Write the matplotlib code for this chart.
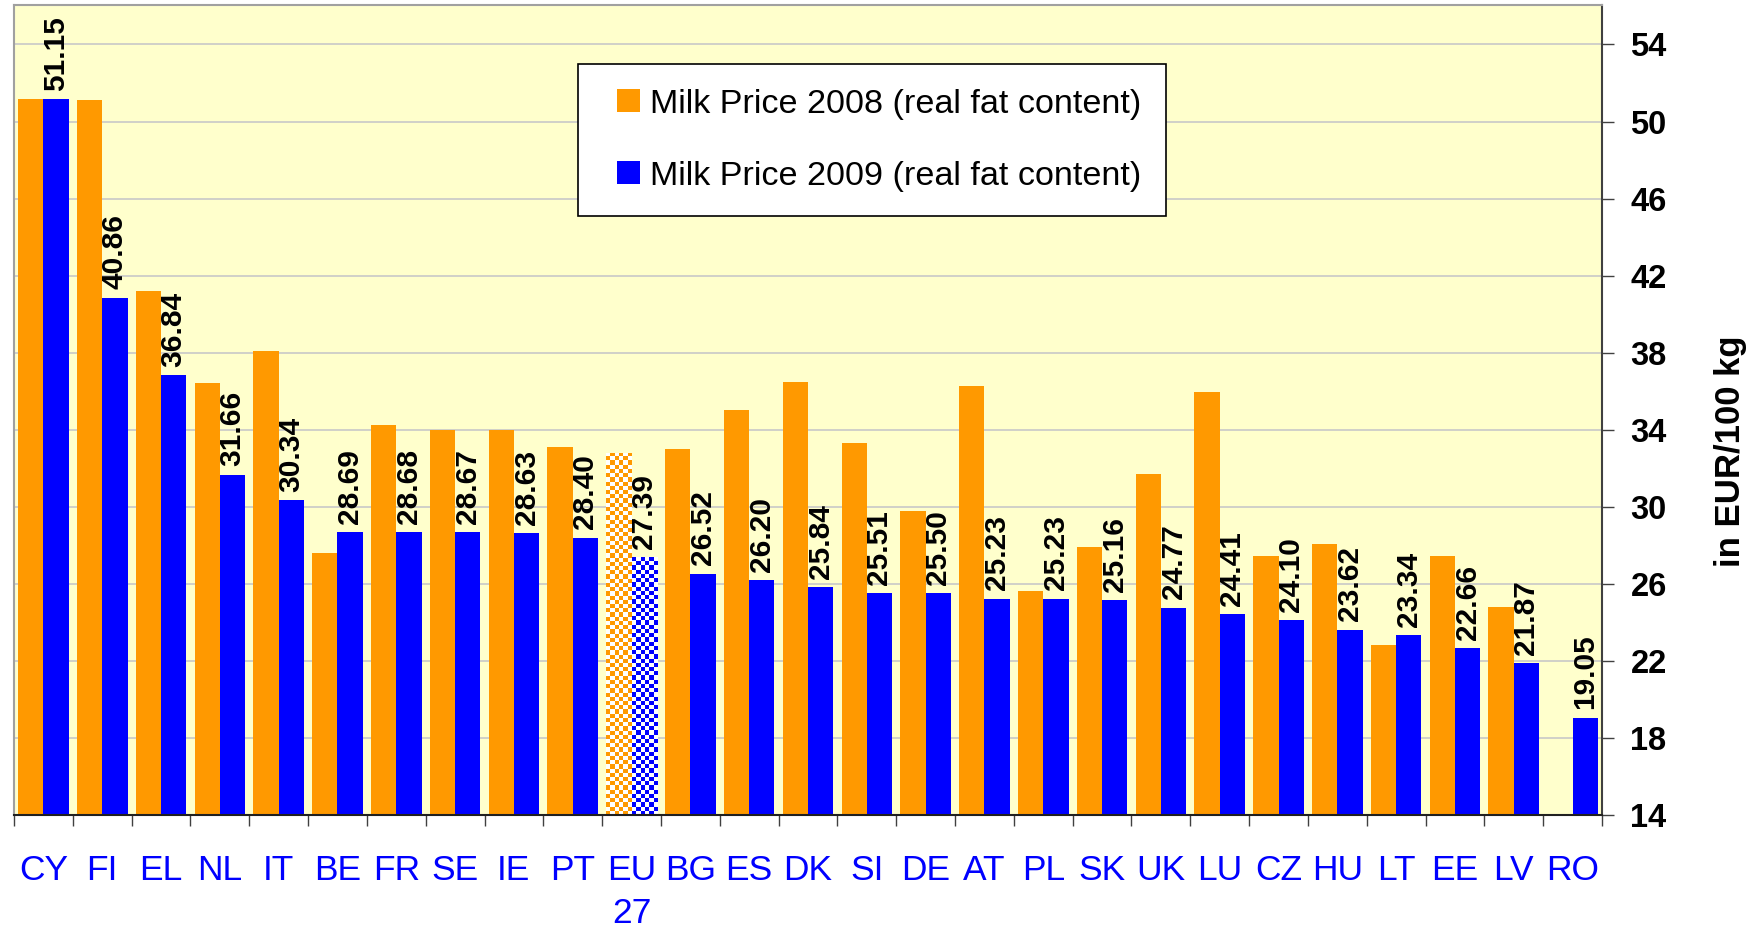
import numpy as np
import matplotlib
matplotlib.use("Agg")
import matplotlib.pyplot as plt
from matplotlib.colors import ListedColormap
from matplotlib.patches import Patch, Rectangle
from matplotlib.legend_handler import HandlerPatch
from matplotlib import font_manager

# ---------------- data ----------------
countries = ['CY', 'FI', 'EL', 'NL', 'IT', 'BE', 'FR', 'SE', 'IE', 'PT', 'EU\n27',
             'BG', 'ES', 'DK', 'SI', 'DE', 'AT', 'PL', 'SK', 'UK', 'LU', 'CZ',
             'HU', 'LT', 'EE', 'LV', 'RO']
price_2008 = [51.15, 51.10, 41.22, 36.42, 38.09, 27.62, 34.24, 33.98, 33.98, 33.09, 32.81,
              32.99, 35.02, 36.47, 33.29, 29.76, 36.27, 25.65, 27.93, 31.69, 35.95, 27.47,
              28.05, 22.80, 27.47, 24.81, np.nan]
price_2009 = [51.15, 40.86, 36.84, 31.66, 30.34, 28.69, 28.68, 28.67, 28.63, 28.40, 27.39,
              26.52, 26.20, 25.84, 25.51, 25.50, 25.23, 25.23, 25.16, 24.77, 24.41, 24.10,
              23.62, 23.34, 22.66, 21.87, 19.05]
aggregate = ['EU\n27']
yticks = list(range(14, 55, 4))
label_2008 = 'Milk Price 2008 (real fat content)'
label_2009 = 'Milk Price 2009 (real fat content)'
ylabel = 'in EUR/100 kg'

ORANGE = '#FF9900'
BLUE = '#0000FF'
BG = '#FFFFCC'

avail = {f.name for f in font_manager.fontManager.ttflist}
narrow = 'Liberation Sans Narrow' if 'Liberation Sans Narrow' in avail else 'Liberation Sans'
plt.rcParams['font.family'] = ['Liberation Sans', 'DejaVu Sans']

fig = plt.figure(figsize=(17.6, 9.31), dpi=100)
fig.patch.set_facecolor('white')
ax = fig.add_axes([14 / 1760, 1 - 815 / 931, 1588 / 1760, 810 / 931])
ax.set_facecolor(BG)

x = np.arange(len(countries))
w = 0.43
b1 = ax.bar(x - w / 2, price_2008, w, color=ORANGE, linewidth=0, zorder=2)
b2 = ax.bar(x + w / 2, price_2009, w, color=BLUE, linewidth=0, zorder=2)

ax.set_xlim(-0.5, len(countries) - 0.5)
ax.set_ylim(14, 56.05)

# checkerboard fill for aggregate bars
def checker(bar, color):
    bar.set_facecolor('white')
    x0 = bar.get_x()
    x1 = x0 + bar.get_width()
    y0 = ax.get_ylim()[0]
    y1 = bar.get_height()
    p0 = ax.transData.transform((x0, y0))
    p1 = ax.transData.transform((x1, y1))
    nx = max(1, int(round(abs(p1[0] - p0[0]) / 4.2)))
    ny = max(1, int(round(abs(p1[1] - p0[1]) / 4.2)))
    grid = np.indices((ny, nx)).sum(axis=0) % 2
    im = ax.imshow(grid, cmap=ListedColormap([color, 'white']), extent=(x0, x1, y0, y1),
                   origin='lower', aspect='auto', interpolation='nearest', zorder=2.1)
    im.set_clip_path(bar)

xl, yl = ax.get_xlim(), ax.get_ylim()
for i, c in enumerate(countries):
    if c in aggregate:
        checker(b1[i], ORANGE)
        checker(b2[i], BLUE)
ax.set_xlim(xl)
ax.set_ylim(yl)

# value labels on 2009 bars
for i, v in enumerate(price_2009):
    ax.annotate(f'{v:.2f}', (x[i] + w / 2, v), xytext=(0, 6), textcoords='offset points',
                rotation=90, ha='center', va='bottom', fontsize=21.5, fontweight='bold',
                color='black', zorder=4)

# grid
ax.set_axisbelow(True)
ax.yaxis.grid(True, color='#C8C8C8', linewidth=1.2)
ax.xaxis.grid(False)

# y axis on right
ax.yaxis.tick_right()
ax.set_yticks(yticks)
ax.set_yticklabels([str(t) for t in yticks], fontsize=23.5, fontweight='bold')
ax.tick_params(axis='y', which='major', direction='out', length=8.5, width=1, pad=12,
               color='#404040', left=False, right=True)

# x ticks: labels at centers, tick marks at boundaries
ax.set_xticks(x)
ax.set_xticklabels(countries, fontsize=25.5, color=BLUE, family=[narrow, 'Liberation Sans'],
                   linespacing=1.38)
ax.set_xticks(np.arange(len(countries) + 1) - 0.5, minor=True)
ax.tick_params(axis='x', which='major', length=0, pad=28)
ax.tick_params(axis='x', which='minor', direction='out', length=8, width=1, color='#404040')

for s in ['top', 'left']:
    ax.spines[s].set_color('#A0A0A0')
    ax.spines[s].set_linewidth(1.5)
ax.spines['bottom'].set_color('#202020')
ax.spines['bottom'].set_linewidth(1.5)
ax.spines['right'].set_color('#404040')
ax.spines['right'].set_linewidth(1.5)

fig.text(1730.5 / 1760, 1 - 451 / 931, ylabel, rotation=90, ha='center', va='center',
         fontsize=25, fontweight='bold')


def square_handle(legend, orig_handle, xdescent, ydescent, width, height, fontsize):
    s = height
    return Rectangle((width - xdescent - s, -ydescent), s, s)


handles = [Patch(facecolor=ORANGE, edgecolor='none', label=label_2008),
           Patch(facecolor=BLUE, edgecolor='none', label=label_2009)]
leg = ax.legend(handles=handles, loc='upper left', bbox_to_anchor=(578 / 1760, 1 - 64 / 931),
                bbox_transform=fig.transFigure, borderaxespad=0, fontsize=24.6,
                handlelength=1.08, handleheight=0.64, handletextpad=0.3, borderpad=0.72,
                labelspacing=1.2, fancybox=False, framealpha=1, facecolor='white',
                edgecolor='black',
                handler_map={Patch: HandlerPatch(patch_func=square_handle)})
leg.get_frame().set_linewidth(1.2)
leg.set_zorder(5)

fig.savefig('out.png', dpi=100, facecolor='white')
